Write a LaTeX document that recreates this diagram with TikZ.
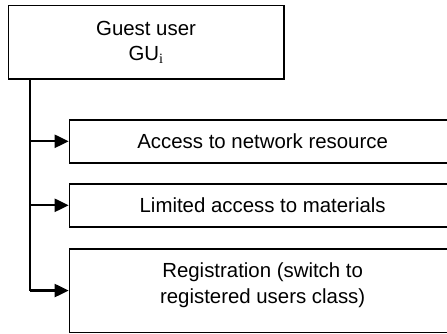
\documentclass[tikz,border=0pt]{standalone}
\usepackage{fontspec}
\setmainfont{Liberation Sans}
\newfontfamily\subserif{Liberation Serif}
\usetikzlibrary{arrows.meta}
\begin{document}
\begin{tikzpicture}[x=1pt,y=-1pt,
  box/.style={draw, line width=1.6pt, rectangle, inner sep=0pt, anchor=north west,
    font=\fontsize{20.4}{26}\selectfont, align=center},
  branch/.style={line width=2.2pt, -{Triangle[length=14pt,width=13pt]}},
  trunkline/.style={line width=1.8pt}]
\useasboundingbox (0,0) rectangle (447,333);
% parent box
\node[box, minimum width=275.5pt, minimum height=73.5pt] (gu) at (7.5,4.5)
  {Guest user\\[-1pt]GU\textsubscript{\subserif i}};
% rights of the guest user
\node[box, minimum width=386.3pt, minimum height=43pt] (net) at (68.7,119)
  {Access to network resource};
\node[box, minimum width=386.3pt, minimum height=43pt] (mat) at (68.7,183)
  {Limited access to materials};
\node[box, minimum width=386.3pt, minimum height=83.5pt] (reg) at (68.7,248)
  {Registration (switch to\\registered users class)\\[-12pt]};
% connectors
\coordinate (trunk) at (30,78);
\draw[trunkline] (trunk) -- (trunk |- reg.west);
\draw[branch] (trunk |- net.west) -- (net.west);
\draw[branch] (trunk |- mat.west) -- (mat.west);
\draw[branch] (trunk |- reg.west) -- (reg.west);
\end{tikzpicture}
\end{document}
